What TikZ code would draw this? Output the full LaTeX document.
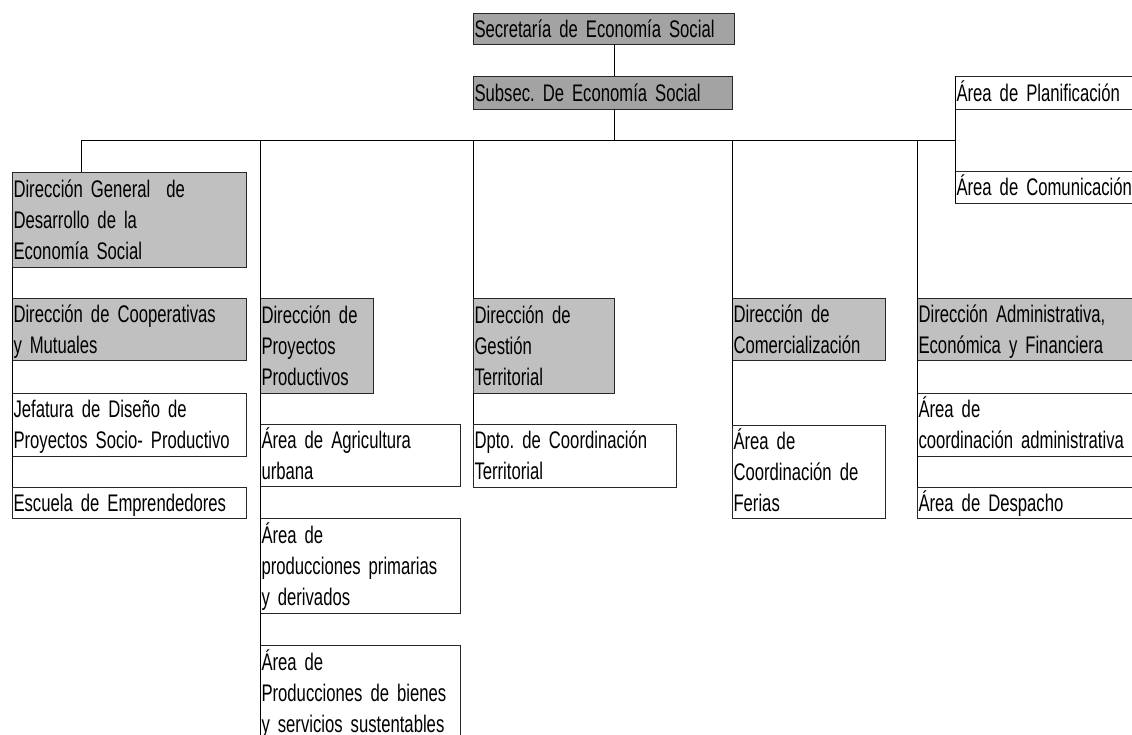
\documentclass[tikz,border=0pt]{standalone}
\usepackage{fontspec}
\newfontfamily\nar[FakeStretch=0.695]{Liberation Sans}
\newcommand\lin[1]{\mbox{\rule[-7pt]{0pt}{31pt}#1}}
\newcommand\narfont{\nar\fontsize{24}{31}\selectfont\frenchspacing\spaceskip=4.3pt plus 1pt minus 1pt\relax}
\definecolor{darkbox}{RGB}{163,163,163}
\definecolor{lightbox}{RGB}{192,192,192}
\definecolor{edge}{RGB}{40,40,40}
\tikzset{
  box/.style={draw=edge, line width=0.8pt, inner xsep=1.5pt, inner ysep=0pt, outer sep=0pt,
    anchor=north west, align=left, font=\narfont},
  dbox/.style={box, fill=darkbox},
  gbox/.style={box, fill=lightbox},
  wbox/.style={box, fill=white},
  conn/.style={draw=black, line width=0.8pt}
}
\begin{document}
\begin{tikzpicture}[x=1pt,y=-1pt]
\useasboundingbox (0,0) rectangle (1132,734);
% top
\node[dbox, minimum width=261pt, minimum height=31pt, text width=258pt] (sec) at (473,13) {\lin{Secretaría de Economía Social}};
\node[dbox, minimum width=259pt, minimum height=33pt, text width=256pt] (sub) at (473,76) {\lin{Subsec. De Economía Social}};
\node[wbox, minimum width=190pt, minimum height=33pt, text width=187pt] (plan) at (955,76) {\lin{Área de Planificación}};
\node[wbox, minimum width=190pt, minimum height=32pt, text width=187pt] (com) at (955,171) {\lin{Área de Comunicación}};
% column 1
\node[gbox, minimum width=234pt, minimum height=95pt, text width=231pt] (dg) at (12,172) {\lin{Dirección General\ \ de}\\\lin{Desarrollo de la}\\\lin{Economía Social}};
\node[gbox, minimum width=234pt, minimum height=62pt, text width=231pt] (coop) at (12,298) {\lin{Dirección de Cooperativas}\\\lin{y Mutuales}};
\node[wbox, minimum width=234pt, minimum height=63pt, text width=231pt] (jef) at (12,393) {\lin{Jefatura de Diseño de}\\\lin{Proyectos Socio- Productivo}};
\node[wbox, minimum width=234pt, minimum height=31pt, text width=231pt] (esc) at (12,487) {\lin{Escuela de Emprendedores}};
% column 2
\node[gbox, minimum width=113pt, minimum height=95pt, text width=110pt] (proy) at (260,298) {\lin{Dirección de}\\\lin{Proyectos}\\\lin{Productivos}};
\node[wbox, minimum width=200pt, minimum height=62pt, text width=197pt] (agr) at (260,424) {\lin{Área de Agricultura}\\\lin{urbana}};
\node[wbox, minimum width=200pt, minimum height=95pt, text width=197pt] (prim) at (260,518) {\lin{Área de}\\\lin{producciones primarias}\\\lin{y derivados}};
\node[wbox, minimum width=200pt, minimum height=95pt, text width=197pt] (bien) at (260,645) {\lin{Área de}\\\lin{Producciones de bienes}\\\lin{y servicios sustentables}};
% column 3
\node[gbox, minimum width=141pt, minimum height=95pt, text width=138pt] (gest) at (473,298) {\lin{Dirección de}\\\lin{Gestión}\\\lin{Territorial}};
\node[wbox, minimum width=203pt, minimum height=63pt, text width=200pt] (dpto) at (473,424) {\lin{Dpto. de Coordinación}\\\lin{Territorial}};
% column 4
\node[gbox, minimum width=153pt, minimum height=62pt, text width=150pt] (comer) at (732,298) {\lin{Dirección de}\\\lin{Comercialización}};
\node[wbox, minimum width=153pt, minimum height=93pt, text width=150pt] (fer) at (732,425) {\lin{Área de}\\\lin{Coordinación de}\\\lin{Ferias}};
% column 5
\node[gbox, minimum width=230pt, minimum height=62pt, text width=227pt] (adm) at (917,298) {\lin{Dirección Administrativa,}\\\lin{Económica y Financiera}};
\node[wbox, minimum width=230pt, minimum height=63pt, text width=227pt] (coord) at (917,393) {\lin{Área de}\\\lin{coordinación administrativa}};
\node[wbox, minimum width=230pt, minimum height=31pt, text width=227pt] (desp) at (917,487) {\lin{Área de Despacho}};
% connectors
\coordinate (m) at (614,140);
\coordinate (b1) at (81,140);
\coordinate (b2) at (260,140);
\coordinate (b3) at (473,140);
\coordinate (b4) at (732,140);
\coordinate (b5) at (917,140);
\coordinate (b6) at (955,140);
\draw[conn] (m |- sec.south) -- (m |- sub.north);
\draw[conn] (m |- sub.south) -- (m);
\draw[conn] (b1) -- (b6);
\draw[conn] (b1) -- (b1 |- dg.north);
\draw[conn] (b2) -- (b2 |- bien.south);
\draw[conn] (dg.south west) -- (esc.north west);
\draw[conn] (b3) -- (gest.north west);
\draw[conn] (gest.south west) -- (dpto.north west);
\draw[conn] (b4) -- (fer.north west);
\draw[conn] (b5) -- (desp.north west);
\draw[conn] (plan.north west) -- (com.south west);
\end{tikzpicture}
\end{document}
